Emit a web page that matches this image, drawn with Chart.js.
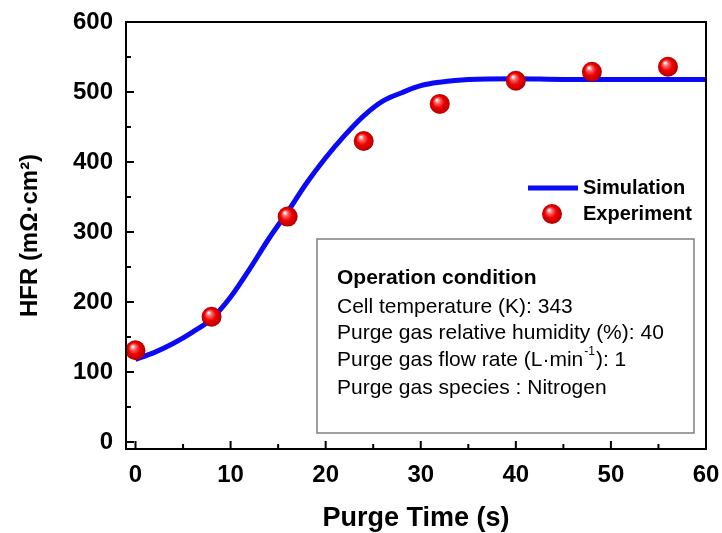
<!DOCTYPE html>
<html>
<head>
<meta charset="utf-8">
<script src="https://cdn.jsdelivr.net/npm/chart.js@4.4.1/dist/chart.umd.min.js"></script>
<style>
html, body { margin: 0; padding: 0; background: #fff; }
</style>
</head>
<body>
<canvas id="hfrChart" width="722" height="533"></canvas>
<script>
// measured points (red balls)
const expTime = [0, 8, 16, 24, 32, 40, 48, 56];
const expHFR = [131, 179, 322, 430, 483, 516, 529, 536];

// simulation curve
const simTime = [0, 2, 4, 6, 8, 10, 12, 14, 16, 18, 20, 22, 24, 26, 28, 30, 32, 35, 40, 45, 50, 55, 60];
const simHFR = [118, 128, 141, 157, 176, 207, 247, 290, 329, 370, 406, 438, 466, 487, 499, 509, 514, 518, 519, 518, 518, 518, 518];

const xTicks = [0, 10, 20, 30, 40, 50, 60];
const yTicks = [0, 100, 200, 300, 400, 500, 600];
const xMinor = [5, 15, 25, 35, 45, 55];
const yMinor = [50, 150, 250, 350, 450, 550];

const infoLines = [
    'Cell temperature (K): 343',
    'Purge gas relative humidity (%): 40',
    'Purge gas flow rate (L·min',
    'Purge gas species : Nitrogen'
];

const FONT = '"Liberation Sans", Arial, sans-serif';
Chart.defaults.font.family = FONT;
Chart.defaults.color = '#000';

function ballFill(ctx, x, y, r) {
    const g = ctx.createRadialGradient(x - r * 0.3, y - r * 0.4, r * 0.05, x, y, r);
    g.addColorStop(0, '#ffffff');
    g.addColorStop(0.22, '#ff6a6a');
    g.addColorStop(0.55, '#f20000');
    g.addColorStop(1, '#b00000');
    return g;
}

// box, inward ticks, legend and the text box
const decor = {
    id: 'decor',
    afterDatasetsDraw(chart) {
        const ctx = chart.ctx;
        const a = chart.chartArea;
        const xs = chart.scales.x, ys = chart.scales.y;
        ctx.save();
        ctx.strokeStyle = '#000';
        ctx.lineWidth = 2;
        ctx.strokeRect(a.left, a.top, a.right - a.left, a.bottom - a.top);

        ctx.beginPath();
        xTicks.forEach(v => { const p = xs.getPixelForValue(v); ctx.moveTo(p, a.bottom); ctx.lineTo(p, a.bottom - 8); });
        xMinor.forEach(v => { const p = xs.getPixelForValue(v); ctx.moveTo(p, a.bottom); ctx.lineTo(p, a.bottom - 5); });
        yTicks.forEach(v => { const p = ys.getPixelForValue(v); ctx.moveTo(a.left, p); ctx.lineTo(a.left + 8, p); });
        yMinor.forEach(v => { const p = ys.getPixelForValue(v); ctx.moveTo(a.left, p); ctx.lineTo(a.left + 5, p); });
        ctx.stroke();

        // legend
        ctx.strokeStyle = '#0a0af5';
        ctx.lineWidth = 5;
        ctx.beginPath();
        ctx.moveTo(528, 188);
        ctx.lineTo(578, 188);
        ctx.stroke();
        ctx.fillStyle = ballFill(ctx, 552, 214, 10);
        ctx.beginPath();
        ctx.arc(552, 214, 10, 0, Math.PI * 2);
        ctx.fill();
        ctx.fillStyle = '#000';
        ctx.font = 'bold 20px ' + FONT;
        ctx.textBaseline = 'middle';
        ctx.fillText('Simulation', 583, 188);
        ctx.fillText('Experiment', 583, 214);

        // operation condition box
        ctx.strokeStyle = '#808080';
        ctx.lineWidth = 1.5;
        ctx.strokeRect(317, 239, 377, 194);
        ctx.font = 'bold 21px ' + FONT;
        ctx.fillText('Operation condition', 337, 278);
        ctx.font = '21px ' + FONT;
        const ys0 = [307, 333, 360, 388];
        infoLines.forEach((t, i) => ctx.fillText(t, 337, ys0[i]));
        let w = ctx.measureText(infoLines[2]).width;
        ctx.font = '12px ' + FONT;
        ctx.fillText('-1', 337 + w + 1, ys0[2] - 8);
        const w2 = ctx.measureText('-1').width;
        ctx.font = '21px ' + FONT;
        ctx.fillText('): 1', 337 + w + w2 + 2, ys0[2]);
        ctx.restore();
    }
};

const ctx = document.getElementById('hfrChart').getContext('2d');
const hfrChart = new Chart(ctx, {
    type: 'scatter',
    data: {
        datasets: [{
            label: 'Experiment',
            data: expTime.map((t, i) => ({ x: t, y: expHFR[i] })),
            order: 0,
            pointRadius: 10,
            pointBorderWidth: 0,
            backgroundColor: c => {
                if (c.type !== 'data' || !c.parsed) return '#f00';
                const s = c.chart.scales;
                const px = s.x.getPixelForValue(c.parsed.x);
                const py = s.y.getPixelForValue(c.parsed.y);
                if (!isFinite(px) || !isFinite(py)) return '#f00';
                return ballFill(c.chart.ctx, px, py, 10);
            },
            borderColor: 'rgba(0,0,0,0)'
        }, {
            label: 'Simulation',
            data: simTime.map((t, i) => ({ x: t, y: simHFR[i] })),
            order: 1,
            showLine: true,
            borderColor: '#0a0af5',
            borderWidth: 5,
            pointRadius: 0,
            cubicInterpolationMode: 'monotone'
        }]
    },
    options: {
        responsive: false,
        animation: false,
        layout: { padding: { top: 22, right: 16, left: 0, bottom: 0 } },
        plugins: { legend: { display: false }, tooltip: { enabled: false } },
        scales: {
            x: {
                type: 'linear', min: -1, max: 60,
                afterBuildTicks: s => { s.ticks = xTicks.map(v => ({ value: v })); },
                afterFit: s => { s.height = 84; s.paddingLeft = 0; s.paddingRight = 0; },
                grid: { display: false },
                border: { display: false },
                ticks: { font: { size: 24, weight: 'bold' }, padding: 4, maxRotation: 0 },
                title: { display: true, text: 'Purge Time (s)', font: { size: 27, weight: 'bold' }, padding: { top: 0, bottom: -2 } }
            },
            y: {
                type: 'linear', min: -10, max: 600,
                afterBuildTicks: s => { s.ticks = yTicks.map(v => ({ value: v })); },
                afterFit: s => { s.width = 126; s.paddingTop = 0; s.paddingBottom = 0; },
                grid: { display: false },
                border: { display: false },
                ticks: { font: { size: 24, weight: 'bold' }, padding: 5 },
                title: { display: true, text: 'HFR (mΩ·cm²)', font: { size: 24, weight: 'bold' }, padding: { top: 16, bottom: 0 } }
            }
        }
    },
    plugins: [decor]
});
</script>
</body>
</html>
